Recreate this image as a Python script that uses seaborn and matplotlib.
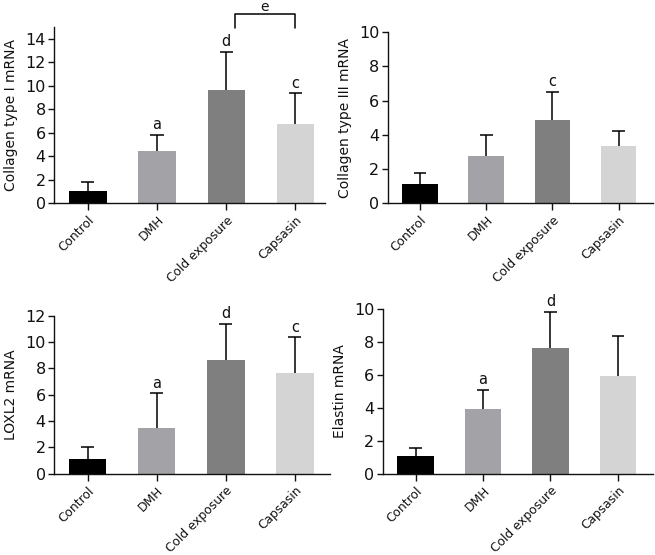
import matplotlib
matplotlib.use("Agg")
import matplotlib.pyplot as plt
import seaborn as sns
import numpy as np
import pandas as pd

sns.set_theme(style="ticks")
plt.rcParams['font.family'] = ['DejaVu Sans']

groups = ["Control", "DMH", "Cold exposure", "Capsasin"]
colors = ["#000000", "#a3a3a7", "#7f7f7f", "#d4d4d4"]

col1_mean = [1.05, 4.47, 9.66, 6.75]
col1_upper = [1.8, 5.8, 12.9, 9.35]
col1_marks = ["", "a", "d", "c"]

col3_mean = [1.1, 2.77, 4.84, 3.34]
col3_upper = [1.78, 4.0, 6.52, 4.22]
col3_marks = ["", "", "c", ""]

loxl2_mean = [1.15, 3.44, 8.66, 7.66]
loxl2_upper = [2.02, 6.09, 11.38, 10.35]
loxl2_marks = ["", "a", "d", "c"]

elastin_mean = [1.09, 3.95, 7.63, 5.96]
elastin_upper = [1.55, 5.11, 9.84, 8.39]
elastin_marks = ["", "a", "d", ""]

panels = [
    dict(mean=col1_mean, upper=col1_upper, marks=col1_marks, ylabel="Collagen type I mRNA",
         ylim=15, yticks=np.arange(0, 15, 2), pos=[0.0824, 0.634, 0.414, 0.317], xr=3.43),
    dict(mean=col3_mean, upper=col3_upper, marks=col3_marks, ylabel="Collagen type III mRNA",
         ylim=10, yticks=np.arange(0, 11, 2), pos=[0.592, 0.634, 0.405, 0.308], xr=3.52),
    dict(mean=loxl2_mean, upper=loxl2_upper, marks=loxl2_marks, ylabel="LOXL2 mRNA",
         ylim=12, yticks=np.arange(0, 13, 2), pos=[0.0824, 0.1465, 0.4216, 0.2848], xr=3.51),
    dict(mean=elastin_mean, upper=elastin_upper, marks=elastin_marks, ylabel="Elastin mRNA",
         ylim=10, yticks=np.arange(0, 11, 2), pos=[0.584, 0.1465, 0.413, 0.2965], xr=3.52),
]

fig = plt.figure(figsize=(6.55, 5.55), dpi=100)

for i, p in enumerate(panels):
    ax = fig.add_axes(p["pos"])
    df = pd.DataFrame({"group": groups, "value": p["mean"]})
    sns.barplot(data=df, x="group", y="value", hue="group", palette=colors,
                width=0.54, legend=False, ax=ax, saturation=1, edgecolor="none", zorder=2)
    x = np.arange(len(groups))
    mean = np.array(p["mean"])
    upper = np.array(p["upper"])
    ax.vlines(x, mean, upper, color="black", lw=1.1, zorder=3)
    ax.hlines(upper, x - 0.095, x + 0.095, color="black", lw=1.1, zorder=3)
    for xi, u, m in zip(x, p["upper"], p["marks"]):
        if m:
            ax.text(xi, u + p["ylim"] * 0.015, m, ha="center", va="bottom", fontsize=10.5, color="#111111")
    ax.set_ylim(0, p["ylim"])
    ax.set_xlim(-0.49, p["xr"])
    ax.set_yticks(p["yticks"])
    ax.set_ylabel(p["ylabel"], fontsize=10, color="#111111", labelpad=5)
    ax.set_xlabel("")
    ax.set_xticks(x)
    ax.set_xticklabels(groups, rotation=45, ha="right", rotation_mode="anchor", fontsize=8.8, color="#222222")
    ax.tick_params(axis="y", labelsize=11.5, length=4, width=1, colors="#111111", pad=2)
    ax.tick_params(axis="x", length=5, width=1, colors="#111111", pad=2.5)
    for s in ["top", "right"]:
        ax.spines[s].set_visible(False)
    for s in ["left", "bottom"]:
        ax.spines[s].set_linewidth(1.0)
        ax.spines[s].set_color("#111111")
    if i == 0:
        # bracket between Cold exposure and Capsasin
        ax.plot([2.13, 2.13, 3.0, 3.0], [14.95, 16.1, 16.1, 14.95], color="black", lw=1.1, clip_on=False)
        ax.text(2.56, 16.15, "e", ha="center", va="bottom", fontsize=10, color="#111111")

fig.savefig("out.png", dpi=100)
